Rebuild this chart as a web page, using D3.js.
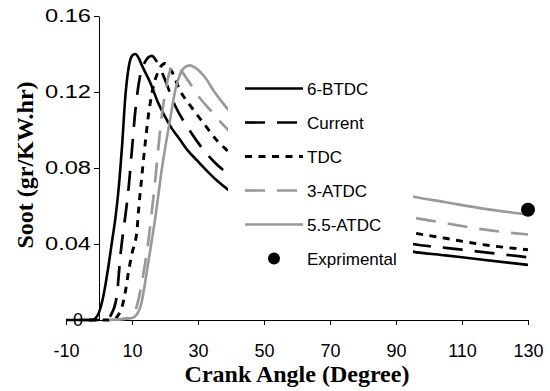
<!DOCTYPE html>
<html>
<head>
<meta charset="utf-8">
<script src="https://cdn.jsdelivr.net/npm/d3@7"></script>
<style>
  html, body { margin: 0; padding: 0; background: #fff; }
  svg { display: block; }
</style>
</head>
<body>
<svg id="chart" width="550" height="391"></svg>
<script>
// Soot formation vs crank angle for several injection timings
const seriesNames = ["6-BTDC", "Current", "TDC", "3-ATDC", "5.5-ATDC"];

const btdcAngle = [-10,-2,-1,0,1,2,3,4,5,6,7,8,9,10,11,12,13,15.5,18,20,22,24.5,27,29.7,33,36,38.8,45,55,65,75,85,95,105,115,130];
const btdcSoot  = [0,0,0.001,0.004,0.01,0.019,0.03,0.042,0.054,0.07,0.092,0.118,0.133,0.139,0.14,0.138,0.134,0.125,0.114,0.107,0.101,0.095,0.089,0.084,0.078,0.073,0.069,0.062,0.054,0.048,0.044,0.04,0.036,0.034,0.032,0.029];

const currentAngle = [-6,2,4,5,5.5,6,6.5,7.3,8,9,10,11,12.4,14,16,17.5,19.4,23,27,31,35,39,45,55,65,75,85,95,105,115,130];
const currentSoot  = [0,0,0.004,0.009,0.014,0.024,0.034,0.046,0.055,0.07,0.09,0.11,0.128,0.136,0.139,0.136,0.129,0.113,0.101,0.091,0.083,0.077,0.07,0.06,0.053,0.048,0.044,0.04,0.038,0.036,0.033];

const tdcAngle = [-3,4,6,7,8,9,10,11.5,12,13,14,15,16,18,20,22,24.5,28,31.5,36,39,45,55,65,75,85,95,105,115,130];
const tdcSoot  = [0,0,0.003,0.007,0.015,0.026,0.035,0.047,0.058,0.076,0.093,0.108,0.119,0.131,0.135,0.131,0.121,0.112,0.104,0.094,0.089,0.08,0.068,0.06,0.054,0.05,0.046,0.043,0.04,0.037];

const atdc3Angle = [3,9,11,12,13,14,15,16,17,18,19,20,21,22.5,24.5,27,30.5,34.5,38,45,55,65,75,85,95,105,115,130];
const atdc3Soot  = [0,0.001,0.005,0.011,0.02,0.03,0.042,0.057,0.073,0.091,0.107,0.119,0.128,0.134,0.132,0.126,0.117,0.109,0.102,0.091,0.078,0.069,0.063,0.058,0.054,0.051,0.048,0.045];

const atdc55Angle = [4.5,10,11.5,13,14,15,16,17,18,19,20,21.5,23,24.5,26,27.5,29,32,35,39,45,55,65,75,85,95,105,115,130];
const atdc55Soot  = [0,0.001,0.003,0.01,0.02,0.031,0.042,0.053,0.066,0.079,0.09,0.105,0.12,0.129,0.133,0.134,0.133,0.128,0.12,0.111,0.1,0.087,0.079,0.073,0.069,0.065,0.062,0.059,0.0555];

const expAngle = [130];
const expSoot  = [0.058];

const xTickValues = [-10, 10, 30, 50, 70, 90, 110, 130];
const xTickLabels = ["-10", "10", "30", "50", "70", "90", "110", "130"];
const yTickValues = [0, 0.04, 0.08, 0.12, 0.16];
const yTickLabels = ["0", "0.04", "0.08", "0.12", "0.16"];

const svg = d3.select("#chart");

const x = d3.scaleLinear().domain([-10, 130]).range([66, 528]);
const y = d3.scaleLinear().domain([0, 0.16]).range([320, 16]);

const styles = [
  { color: "#000", width: 2.6, dash: null },
  { color: "#000", width: 2.7, dash: "20,12" },
  { color: "#000", width: 2.9, dash: "7,6.5" },
  { color: "#999", width: 2.7, dash: "20,12" },
  { color: "#999", width: 2.6, dash: null }
];

const seriesData = [
  [btdcAngle, btdcSoot],
  [currentAngle, currentSoot],
  [tdcAngle, tdcSoot],
  [atdc3Angle, atdc3Soot],
  [atdc55Angle, atdc55Soot]
].map(([a, s]) => a.map((v, i) => ({ a: v, s: s[i] })));

// Axes
const xAxis = d3.axisBottom(x)
  .tickValues(xTickValues)
  .tickFormat((d, i) => xTickLabels[i])
  .tickSizeInner(5).tickSizeOuter(0).tickPadding(19);

const gx = svg.append("g").attr("transform", "translate(0,320)").call(xAxis);
gx.select(".domain").attr("stroke", "#000").attr("stroke-width", 1);
gx.selectAll(".tick line").attr("stroke", "#000");
gx.selectAll(".tick text")
  .attr("font-family", "'Liberation Sans', Arial, sans-serif")
  .attr("font-size", 18).attr("fill", "#000");

const yAxis = d3.axisLeft(y)
  .tickValues(yTickValues)
  .tickFormat((d, i) => yTickLabels[i])
  .tickSizeInner(5).tickSizeOuter(0).tickPadding(3);

const gy = svg.append("g").attr("transform", `translate(${x(0)},0)`).call(yAxis);
gy.select(".domain").attr("stroke", "#000").attr("stroke-width", 1);
gy.selectAll(".tick line").attr("stroke", "#000");
gy.selectAll(".tick text")
  .attr("font-family", "'Liberation Sans', Arial, sans-serif")
  .attr("font-size", 18).attr("fill", "#000")
  .each(function (d, i) {
    const t = d3.select(this);
    if (yTickLabels[i].length > 1) {
      t.attr("textLength", 46).attr("lengthAdjust", "spacingAndGlyphs");
    } else {
      t.attr("x", -16);
    }
  });

// Series lines
const line = d3.line()
  .x(d => x(d.a))
  .y(d => y(d.s))
  .curve(d3.curveMonotoneX);

seriesData.forEach((data, i) => {
  svg.append("path")
    .datum(data)
    .attr("fill", "none")
    .attr("stroke", styles[i].color)
    .attr("stroke-width", styles[i].width)
    .attr("stroke-dasharray", styles[i].dash)
    .attr("stroke-linejoin", "round")
    .attr("d", line);
});

// Measured point
svg.selectAll("circle.exp")
  .data(expAngle.map((a, i) => ({ a, s: expSoot[i] })))
  .enter().append("circle")
  .attr("class", "exp")
  .attr("cx", d => x(d.a))
  .attr("cy", d => y(d.s))
  .attr("r", 7)
  .attr("fill", "#000");

// Axis titles
svg.append("text")
  .attr("x", 297).attr("y", 382)
  .attr("text-anchor", "middle")
  .attr("font-family", "'Liberation Serif', 'Times New Roman', serif")
  .attr("font-weight", "bold").attr("font-size", 24)
  .text("Crank Angle (Degree)");

svg.append("text")
  .attr("transform", "translate(33,165) rotate(-90)")
  .attr("text-anchor", "middle")
  .attr("font-family", "'Liberation Serif', 'Times New Roman', serif")
  .attr("font-weight", "bold").attr("font-size", 24)
  .text("Soot (gr/KW.hr)");

// Legend (opaque box over the plot area)
const legend = svg.append("g");
legend.append("rect")
  .attr("x", 228).attr("y", 68).attr("width", 185).attr("height", 210)
  .attr("fill", "#fff");

const legendNames = seriesNames.concat(["Exprimental"]);
legendNames.forEach((name, i) => {
  const cy = 88.5 + i * 34;
  if (i < styles.length) {
    legend.append("line")
      .attr("x1", 245).attr("x2", 303)
      .attr("y1", cy).attr("y2", cy)
      .attr("stroke", styles[i].color)
      .attr("stroke-width", styles[i].width)
      .attr("stroke-dasharray", styles[i].dash);
  } else {
    legend.append("circle")
      .attr("cx", 274).attr("cy", cy).attr("r", 6).attr("fill", "#000");
  }
  legend.append("text")
    .attr("x", 307).attr("y", cy + 6.5)
    .attr("font-family", "'Liberation Sans', Arial, sans-serif")
    .attr("font-size", 17).attr("fill", "#000")
    .text(name);
});
</script>
</body>
</html>
